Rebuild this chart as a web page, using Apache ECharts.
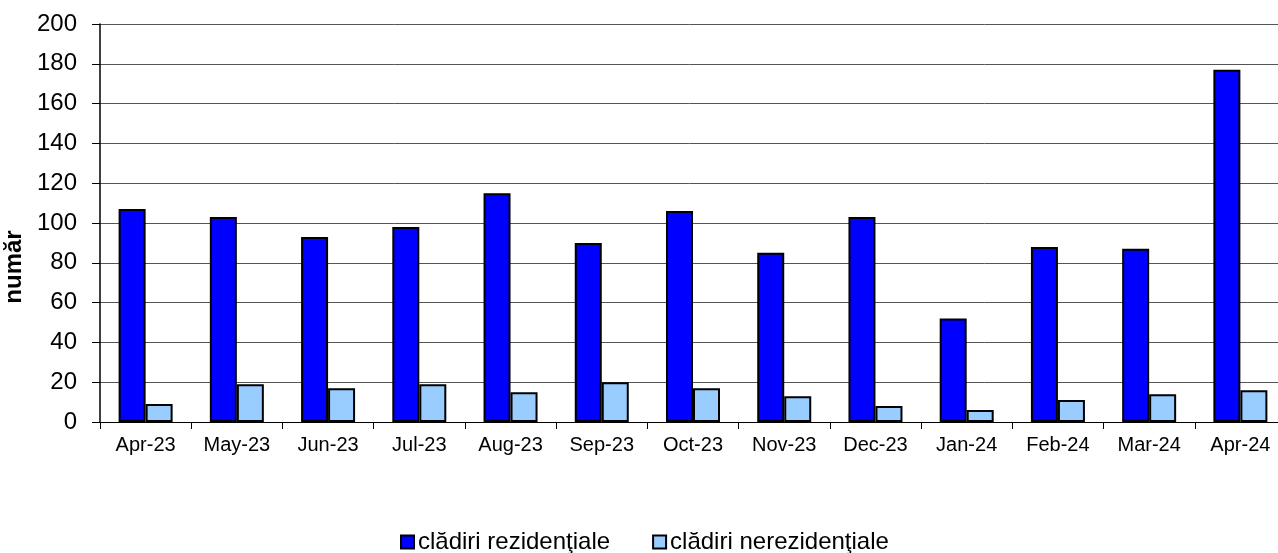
<!DOCTYPE html>
<html>
<head>
<meta charset="utf-8">
<script src="https://cdn.jsdelivr.net/npm/echarts@6/dist/echarts.min.js"></script>
<style>
html,body{margin:0;padding:0;background:#fff;}
#chart{width:1278px;height:553px;}
</style>
</head>
<body>
<div id="chart"></div>
<script>
var categories = ['Apr-23','May-23','Jun-23','Jul-23','Aug-23','Sep-23','Oct-23','Nov-23','Dec-23','Jan-24','Feb-24','Mar-24','Apr-24'];
var rezidentiale = [107,103,93,98,115,90,106,85,103,52,88,87,177];
var nerezidentiale = [9,19,17,19,15,20,17,13,8,6,11,14,16];
var seriesNames = ['clădiri rezidenţiale','clădiri nerezidenţiale'];
var yAxisTitle = 'număr';

var chart = echarts.init(document.getElementById('chart'), null, {renderer:'canvas'});
var font = 'Liberation Sans, Arial, sans-serif';
chart.setOption({
  animation:false,
  backgroundColor:'#ffffff',
  grid:{left:100,right:-8,top:24,bottom:131,containLabel:false,outerBoundsMode:'none'},
  legend:{
    data:seriesNames,
    left:395, top:525,
    itemWidth:13,itemHeight:13,itemGap:42,
    icon:'rect',
    textStyle:{fontFamily:font,fontSize:24,color:'#000',padding:[0,0,0,-1]}
  },
  xAxis:{
    type:'category',
    data:categories,
    boundaryGap:true,
    axisLine:{lineStyle:{color:'#000',width:1}},
    axisTick:{show:true,alignWithLabel:false,length:7,lineStyle:{color:'#000'}},
    axisLabel:{fontFamily:font,fontSize:20,color:'#000',margin:13,interval:0},
    splitLine:{show:false}
  },
  yAxis:{
    type:'value',
    min:0,max:200,interval:20,
    name:yAxisTitle,
    nameLocation:'middle',
    nameRotate:90,
    nameGap:72,
    nameTextStyle:{fontFamily:font,fontSize:24,fontWeight:'bold',color:'#000',padding:[0,88,0,0]},
    axisLine:{show:true,lineStyle:{color:'#000',width:1.5}},
    axisTick:{show:true,length:8,lineStyle:{color:'#000'}},
    axisLabel:{fontFamily:font,fontSize:24,color:'#000',margin:23},
    splitLine:{show:true,lineStyle:{color:'#555',width:1}}
  },
  series:[
    {name:seriesNames[0],type:'bar',data:rezidentiale,barWidth:27,barGap:'0%',
     itemStyle:{color:'#0000FF',borderColor:'#000',borderWidth:2}},
    {name:seriesNames[1],type:'bar',data:nerezidentiale,barWidth:27,barGap:'0%',
     itemStyle:{color:'#99CCFF',borderColor:'#000',borderWidth:2}}
  ]
});
</script>
</body>
</html>
